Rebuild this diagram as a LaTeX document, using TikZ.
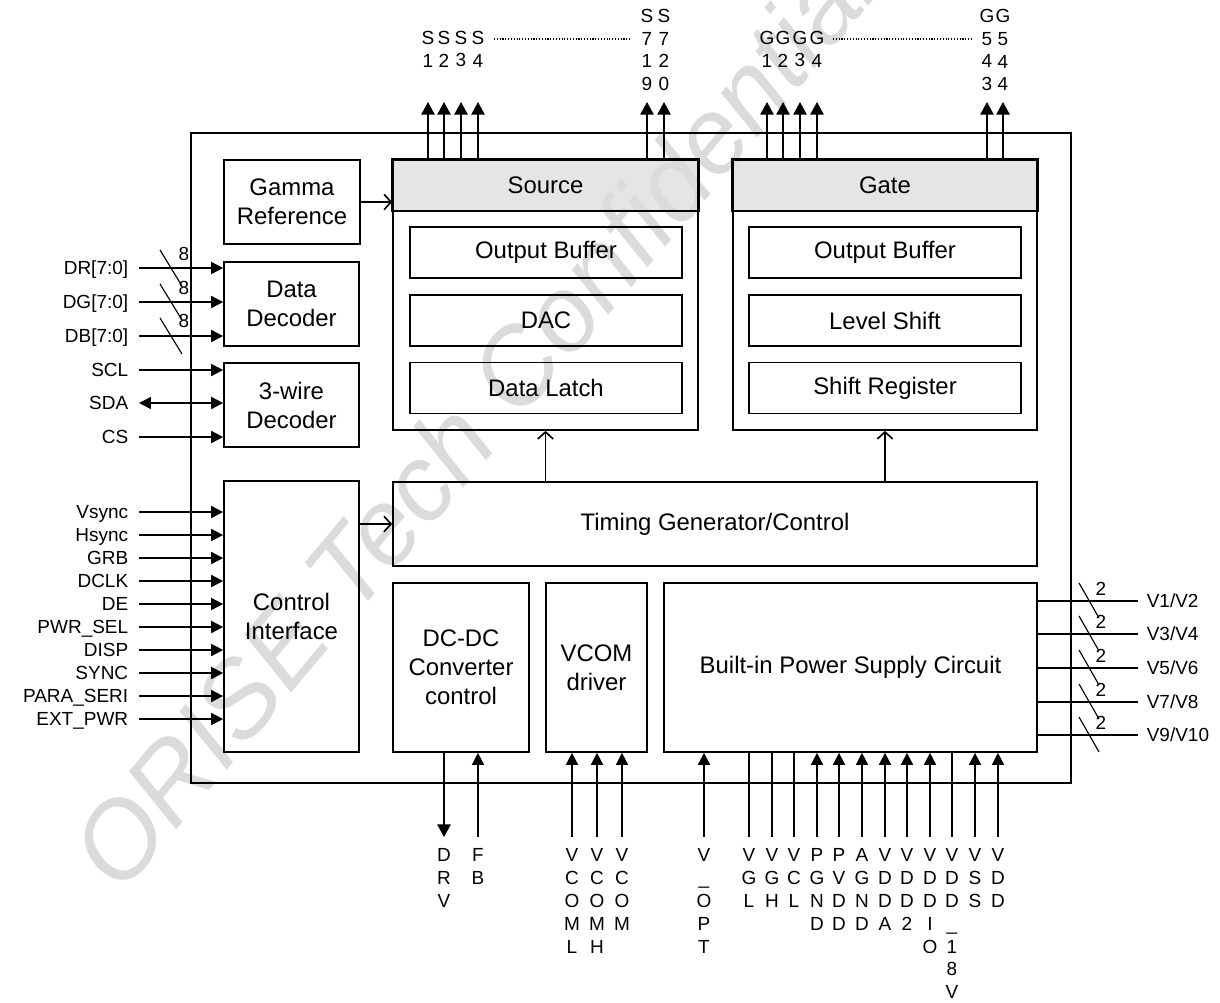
\documentclass[tikz,border=0pt]{standalone}
\usepackage{fontspec}
\setmainfont{Liberation Sans}
\usetikzlibrary{arrows.meta}

\begin{document}
\begin{tikzpicture}[x=0.025cm,y=-0.025cm,line width=1.15pt,
  blk/.style={rectangle,draw,align=center,font=\fontsize{17}{20.6}\selectfont},
  hdr/.style={blk,draw=none,fill=gray!20,minimum width=7.625cm,minimum height=1.25cm},
  sub/.style={blk,minimum width=6.8cm,minimum height=1.275cm},
  pinlab/.style={inner sep=0pt,text height=9.6pt,text depth=0pt,font=\fontsize{13.5}{16.4}\selectfont},
  vpin/.style={inner sep=0pt,align=center,font=\fontsize{13.5}{16.2}\selectfont},
  inarr/.style={-{Triangle[length=8.5pt,width=8.5pt]}},
  biarr/.style={{Triangle[length=8.5pt,width=8.5pt]}-{Triangle[length=8.5pt,width=8.5pt]}},
  outarr/.style={-{Triangle[length=9pt,width=9.5pt]}},
  link/.style={-{Straight Barb[length=5pt,width=11pt]}},
  busmark/.style={line width=0.8pt},
  dots/.style={line width=0.8pt,dash pattern=on 0.8pt off 1.2pt},
  wm/.style={text=gray!28,font=\fontsize{76}{76}\selectfont\itshape,rotate=50,anchor=base west}]
\useasboundingbox (0,0) rectangle (1220,1002);
% header fills below the watermark
\node[hdr] (srch) at (545.5,185) {Source};
\node[hdr,minimum width=7.6cm] (gath) at (885,185) {Gate};
\node[wm] (wmark) at (118,900) {ORISE Tech Confidential};
\draw (srch.south west) rectangle (srch.north east);
\draw (gath.south west) rectangle (gath.north east);
\node[draw,minimum width=22cm,minimum height=16.25cm] (chip) at (631,458) {};
\node[draw,minimum width=7.625cm,minimum height=6.75cm] (src) at (545.5,295) {};
\node[draw,minimum width=7.6cm,minimum height=6.75cm] (gat) at (885,295) {};
\node[sub] (sob) at (546,252.5) {Output Buffer};
\node[sub] (dac) at (546,320.5) {DAC};
\node[sub] (dl) at (546,388) {Data Latch};
\node[sub] (gob) at (885,252.5) {Output Buffer};
\node[sub] (ls) at (885,320.5) {Level Shift};
\node[sub] (sr) at (885,388) {Shift Register};
\node[blk,minimum width=3.4cm,minimum height=2.1cm] (gam) at (292,202) {Gamma\\Reference};
\node[blk,minimum width=3.375cm,minimum height=2.1cm] (dec) at (291.5,304) {Data\\Decoder};
\node[blk,minimum width=3.375cm,minimum height=2.1cm] (twd) at (291.5,405) {3-wire\\Decoder};
\node[blk,minimum width=3.375cm,minimum height=6.775cm] (ctl) at (291.5,616.5) {Control\\Interface};
\node[blk,minimum width=16.1cm,minimum height=2.1cm] (tim) at (715,524) {Timing Generator/Control};
\node[blk,minimum width=3.4cm,minimum height=4.225cm] (dcdc) at (461,667.5) {DC-DC\\Converter\\control};
\node[blk,minimum width=2.525cm,minimum height=4.225cm] (vcom) at (596.5,667.5) {VCOM\\driver};
\node[blk,minimum width=9.325cm,minimum height=4.225cm] (ps) at (850.5,667.5) {Built-in Power Supply Circuit};
\draw[link] (gam) -- (srch.west |- gam);
\draw[link] (ctl.east |- tim) -- (tim.west);
\draw[link] (tim.north -| src) -- (src.south);
\draw[link] (tim.north -| gat) -- (gat.south);

% left pins
\node[pinlab,anchor=east] (dr) at (129,268) {DR[7:0]};
\node[pinlab,anchor=east] (dg) at (129,302) {DG[7:0]};
\node[pinlab,anchor=east] (db) at (129,336) {DB[7:0]};
\node[pinlab,anchor=east] (scl) at (129,370) {SCL};
\node[pinlab,anchor=east] (sda) at (129,403) {SDA};
\node[pinlab,anchor=east] (cs) at (129,437) {CS};
\draw[inarr] ([xshift=2.5mm]dr.east) -- (dec.west |- dr);
\draw[inarr] ([xshift=2.5mm]dg.east) -- (dec.west |- dg);
\draw[inarr] ([xshift=2.5mm]db.east) -- (dec.west |- db);
\draw[inarr] ([xshift=2.5mm]scl.east) -- (twd.west |- scl);
\draw[biarr] ([xshift=2.5mm]sda.east) -- (twd.west |- sda);
\draw[inarr] ([xshift=2.5mm]cs.east) -- (twd.west |- cs);
\draw[busmark] (171,268) ++(-11,-18) -- ++(22,36);
\draw[busmark] (171,302) ++(-11,-18) -- ++(22,36);
\draw[busmark] (171,336) ++(-11,-18) -- ++(22,36);
\node[pinlab] (w1) at (184,254) {8};
\node[pinlab] (w2) at (184,288) {8};
\node[pinlab] (w3) at (184,321) {8};

\node[pinlab,anchor=east] (vsync) at (129,512) {Vsync};
\node[pinlab,anchor=east] (hsync) at (129,535) {Hsync};
\node[pinlab,anchor=east] (grb) at (129,558) {GRB};
\node[pinlab,anchor=east] (dclk) at (129,581) {DCLK};
\node[pinlab,anchor=east] (de) at (129,604) {DE};
\node[pinlab,anchor=east] (pwrsel) at (129,627) {PWR\_SEL};
\node[pinlab,anchor=east] (disp) at (129,650) {DISP};
\node[pinlab,anchor=east] (sync) at (129,673) {SYNC};
\node[pinlab,anchor=east] (para) at (129,696) {PARA\_SERI};
\node[pinlab,anchor=east] (ext) at (129,719) {EXT\_PWR};
\draw[inarr] ([xshift=2.5mm]vsync.east) -- (ctl.west |- vsync);
\draw[inarr] ([xshift=2.5mm]hsync.east) -- (ctl.west |- hsync);
\draw[inarr] ([xshift=2.5mm]grb.east) -- (ctl.west |- grb);
\draw[inarr] ([xshift=2.5mm]dclk.east) -- (ctl.west |- dclk);
\draw[inarr] ([xshift=2.5mm]de.east) -- (ctl.west |- de);
\draw[inarr] ([xshift=2.5mm]pwrsel.east) -- (ctl.west |- pwrsel);
\draw[inarr] ([xshift=2.5mm]disp.east) -- (ctl.west |- disp);
\draw[inarr] ([xshift=2.5mm]sync.east) -- (ctl.west |- sync);
\draw[inarr] ([xshift=2.5mm]para.east) -- (ctl.west |- para);
\draw[inarr] ([xshift=2.5mm]ext.east) -- (ctl.west |- ext);

% top pins
\coordinate (topy) at (0,102);
\coordinate (doty) at (0,39);
\node[vpin] (s1) at (428,49) {S\\1};
\node[vpin] (s2) at (444,49) {S\\2};
\node[vpin] (s3) at (461,49) {S\\3};
\node[vpin] (s4) at (478,49) {S\\4};
\node[vpin] (s719) at (647,50) {S\\7\\1\\9};
\node[vpin] (s720) at (664,50) {S\\7\\2\\0};
\node[vpin] (g1) at (767,49) {G\\1};
\node[vpin] (g2) at (783,49) {G\\2};
\node[vpin] (g3) at (800,49) {G\\3};
\node[vpin] (g4) at (817,49) {G\\4};
\node[vpin] (g543) at (987,50) {G\\5\\4\\3};
\node[vpin] (g544) at (1003,50) {G\\5\\4\\4};
\draw[outarr] (srch.north -| s1) -- (topy -| s1);
\draw[outarr] (srch.north -| s2) -- (topy -| s2);
\draw[outarr] (srch.north -| s3) -- (topy -| s3);
\draw[outarr] (srch.north -| s4) -- (topy -| s4);
\draw[outarr] (srch.north -| s719) -- (topy -| s719);
\draw[outarr] (srch.north -| s720) -- (topy -| s720);
\draw[outarr] (gath.north -| g1) -- (topy -| g1);
\draw[outarr] (gath.north -| g2) -- (topy -| g2);
\draw[outarr] (gath.north -| g3) -- (topy -| g3);
\draw[outarr] (gath.north -| g4) -- (topy -| g4);
\draw[outarr] (gath.north -| g543) -- (topy -| g543);
\draw[outarr] (gath.north -| g544) -- (topy -| g544);
\draw[dots] ([xshift=4mm]s4.center |- doty) -- ([xshift=-4mm]s719.center |- doty);
\draw[dots] ([xshift=4mm]g4.center |- doty) -- ([xshift=-4mm]g543.center |- doty);

% right pins
\node[pinlab,anchor=west] (v12) at (1146,601) {V1/V2};
\node[pinlab,anchor=west] (v34) at (1146,634) {V3/V4};
\node[pinlab,anchor=west] (v56) at (1146,668) {V5/V6};
\node[pinlab,anchor=west] (v78) at (1146,702) {V7/V8};
\node[pinlab,anchor=west] (v910) at (1146,735) {V9/V10};
\draw (ps.east |- v12) -- ([xshift=-2mm]v12.west);
\draw (ps.east |- v34) -- ([xshift=-2mm]v34.west);
\draw (ps.east |- v56) -- ([xshift=-2mm]v56.west);
\draw (ps.east |- v78) -- ([xshift=-2mm]v78.west);
\draw (ps.east |- v910) -- ([xshift=-2mm]v910.west);
\draw[busmark] (1089,601) ++(-10,-18) -- ++(20,35);
\draw[busmark] (1089,634) ++(-10,-18) -- ++(20,35);
\draw[busmark] (1089,668) ++(-10,-18) -- ++(20,35);
\draw[busmark] (1089,702) ++(-10,-18) -- ++(20,35);
\draw[busmark] (1089,735) ++(-10,-18) -- ++(20,35);
\node[pinlab] (t1) at (1101,589) {2};
\node[pinlab] (t2) at (1101,622) {2};
\node[pinlab] (t3) at (1101,656) {2};
\node[pinlab] (t4) at (1101,690) {2};
\node[pinlab] (t5) at (1101,723) {2};

% bottom pins
\coordinate (boty) at (0,837);
\node[vpin,anchor=north] (drv) at (444,848) {D\\R\\V};
\node[vpin,anchor=north] (fb) at (478,848) {F\\B};
\node[vpin,anchor=north] (vcoml) at (572,848) {V\\C\\O\\M\\L};
\node[vpin,anchor=north] (vcomh) at (597,848) {V\\C\\O\\M\\H};
\node[vpin,anchor=north] (vcomm) at (622,848) {V\\C\\O\\M};
\node[vpin,anchor=north] (vopt) at (704,848) {V\\\_\\O\\P\\T};
\node[vpin,anchor=north] (vgl) at (749,848) {V\\G\\L};
\node[vpin,anchor=north] (vgh) at (772,848) {V\\G\\H};
\node[vpin,anchor=north] (vcl) at (794,848) {V\\C\\L};
\node[vpin,anchor=north] (pgnd) at (817,848) {P\\G\\N\\D};
\node[vpin,anchor=north] (pvdd) at (839,848) {P\\V\\D\\D};
\node[vpin,anchor=north] (agnd) at (862,848) {A\\G\\N\\D};
\node[vpin,anchor=north] (vdda) at (885,848) {V\\D\\D\\A};
\node[vpin,anchor=north] (vdd2) at (907,848) {V\\D\\D\\2};
\node[vpin,anchor=north] (vddio) at (930,848) {V\\D\\D\\I\\O};
\node[vpin,anchor=north] (vdd18) at (952,848) {V\\D\\D\\\_\\1\\8\\V};
\node[vpin,anchor=north] (vss) at (975,848) {V\\S\\S};
\node[vpin,anchor=north] (vdd) at (998,848) {V\\D\\D};
\draw[outarr] (dcdc.south -| drv) -- (boty -| drv);
\draw[inarr] (boty -| fb) -- (dcdc.south -| fb);
\draw[inarr] (boty -| vcoml) -- (vcom.south -| vcoml);
\draw[inarr] (boty -| vcomh) -- (vcom.south -| vcomh);
\draw[inarr] (boty -| vcomm) -- (vcom.south -| vcomm);
\draw[inarr] (boty -| vopt) -- (ps.south -| vopt);
\draw (boty -| vgl) -- (ps.south -| vgl);
\draw (boty -| vgh) -- (ps.south -| vgh);
\draw (boty -| vcl) -- (ps.south -| vcl);
\draw[inarr] (boty -| pgnd) -- (ps.south -| pgnd);
\draw[inarr] (boty -| pvdd) -- (ps.south -| pvdd);
\draw[inarr] (boty -| agnd) -- (ps.south -| agnd);
\draw[inarr] (boty -| vdda) -- (ps.south -| vdda);
\draw[inarr] (boty -| vdd2) -- (ps.south -| vdd2);
\draw[inarr] (boty -| vddio) -- (ps.south -| vddio);
\draw (boty -| vdd18) -- (ps.south -| vdd18);
\draw[inarr] (boty -| vss) -- (ps.south -| vss);
\draw[inarr] (boty -| vdd) -- (ps.south -| vdd);
\end{tikzpicture}
\end{document}
